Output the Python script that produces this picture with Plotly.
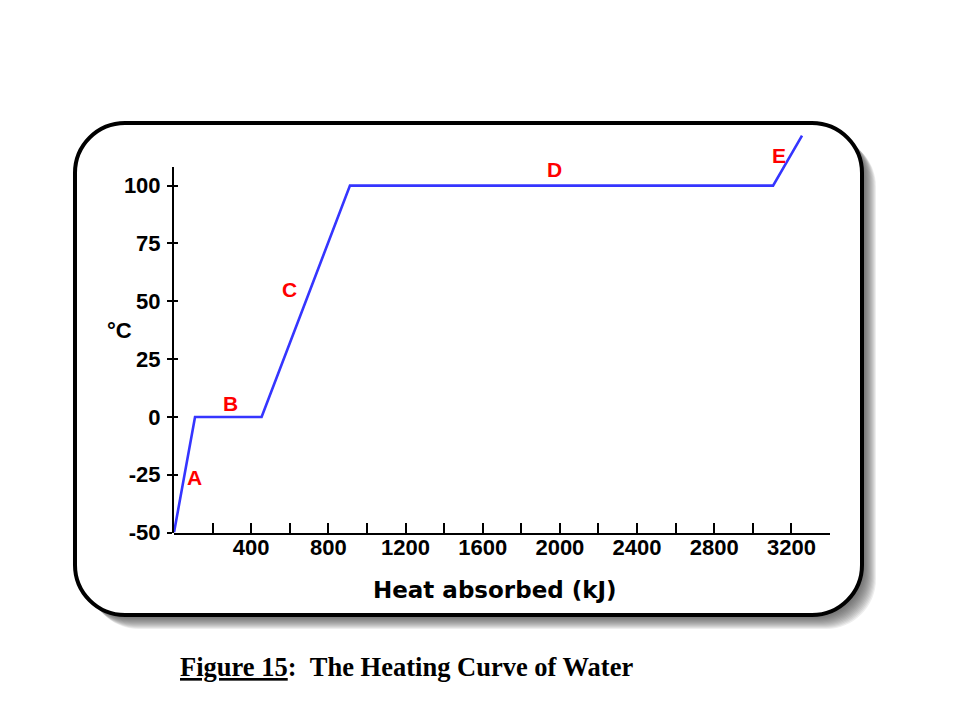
import plotly.graph_objects as go

# ---------------- data ----------------
heat_kj = [0, 109, 454, 912, 3105, 3255]
temp_c = [-50, 0, 0, 100, 100, 121.6]

seg_labels = ["A", "B", "C", "D", "E"]
seg_label_x = [105, 295, 597, 1974, 3136]
seg_label_y = [-26, 6, 55, 107, 113]

x_tickvals = list(range(0, 3401, 200))
x_ticktext = ["" if (v == 0 or v % 400 != 0 or v > 3200) else str(v) for v in x_tickvals]
y_tickvals = [-50, -25, 0, 25, 50, 75, 100]
y_ticktext = ["-50", "-25", "0", "25", "50", "75", "100"]

x_title = "Heat absorbed (kJ)"
y_title = "°C"
caption = "<b><u>Figure 15</u>:&nbsp;&nbsp;The Heating Curve of Water</b>"

# ---------------- layout geometry (pixels) ----------------
W, H = 960, 720
px_x0, px_x1 = 174, 830          # x range 0..3400
px_ybot = 532.6                  # y = -50
px_per_deg = 2.313
y_data_top = 125
y_axis_top = 108


def fx(px):
    return px / W


def fy(py):
    return 1 - py / H


y_dom_bot = fy(px_ybot)
y_dom_top = fy(px_ybot - (y_data_top + 50) * px_per_deg)
y2_dom_top = fy(px_ybot - (y_axis_top + 50) * px_per_deg)


def rr_path(x0, y0, x1, y1, r):
    k = 0.5523 * r
    pts = [
        ("M", [(x0 + r, y0)]),
        ("L", [(x1 - r, y0)]),
        ("C", [(x1 - r + k, y0), (x1, y0 + r - k), (x1, y0 + r)]),
        ("L", [(x1, y1 - r)]),
        ("C", [(x1, y1 - r + k), (x1 - r + k, y1), (x1 - r, y1)]),
        ("L", [(x0 + r, y1)]),
        ("C", [(x0 + r - k, y1), (x0, y1 - r + k), (x0, y1 - r)]),
        ("L", [(x0, y0 + r)]),
        ("C", [(x0, y0 + r - k), (x0 + r - k, y0), (x0 + r, y0)]),
    ]
    s = ""
    for cmd, ps in pts:
        s += cmd + " " + " ".join(f"{fx(a):.5f},{fy(b):.5f}" for a, b in ps) + " "
    return s + "Z"


shapes = []
# soft shadow
for k in range(1, 15):
    shapes.append(dict(type="path", xref="paper", yref="paper",
                       path=rr_path(75 + k, 123 + k, 862 + k, 615 + k, 50),
                       fillcolor="rgba(70,70,70,0.09)", line=dict(width=0),
                       layer="below"))
# frame
shapes.append(dict(type="path", xref="paper", yref="paper",
                   path=rr_path(75, 123, 862, 615, 50),
                   fillcolor="white", line=dict(color="black", width=4),
                   layer="below"))

fig = go.Figure()
fig.add_trace(go.Scatter(x=heat_kj, y=temp_c, mode="lines",
                         line=dict(color="#3535ff", width=2.6),
                         hoverinfo="skip", showlegend=False))
# empty traces so the axis-only subplot is drawn
fig.add_trace(go.Scatter(x=[None], y=[None], xaxis="x2", yaxis="y2",
                         mode="lines", hoverinfo="skip", showlegend=False))
fig.add_trace(go.Scatter(x=[None], y=[None], xaxis="x2", yaxis="y3",
                         mode="lines", hoverinfo="skip", showlegend=False))

annotations = []
for t, lx, ly in zip(seg_labels, seg_label_x, seg_label_y):
    annotations.append(dict(x=lx, y=ly, xref="x", yref="y", text=f"<b>{t}</b>",
                            showarrow=False,
                            font=dict(family="Liberation Sans", size=21, color="#ff0000")))
annotations.append(dict(x=fx(495), y=fy(590), xref="paper", yref="paper",
                        text=f"<b>{x_title}</b>", showarrow=False,
                        xanchor="center", yanchor="middle",
                        font=dict(family="DejaVu Sans", size=23, color="black")))
annotations.append(dict(x=fx(119), y=fy(331), xref="paper", yref="paper",
                        text=f"<b>{y_title}</b>", showarrow=False,
                        xanchor="center", yanchor="middle",
                        font=dict(family="Liberation Sans", size=22, color="black")))
annotations.append(dict(x=fx(178), y=fy(667), xref="paper", yref="paper",
                        text=caption, showarrow=False,
                        xanchor="left", yanchor="middle",
                        font=dict(family="Liberation Serif", size=26.5, color="black")))

tickfont = dict(family="Liberation Sans", size=22, color="black", weight="bold")

fig.update_layout(
    width=W, height=H,
    autosize=False,
    showlegend=False,
    margin=dict(l=0, r=0, t=0, b=0, pad=0, autoexpand=False),
    paper_bgcolor="white",
    plot_bgcolor="rgba(0,0,0,0)",
    shapes=shapes,
    annotations=annotations,
    xaxis=dict(domain=[fx(px_x0), fx(px_x1)], range=[0, 3400], anchor="y",
               showline=True, linecolor="black", linewidth=2,
               ticks="inside", ticklen=10, tickwidth=2, tickcolor="black",
               tickvals=x_tickvals, ticktext=x_ticktext,
               tickfont=tickfont, ticklabelstandoff=-6, automargin=False,
               showgrid=False, zeroline=False, fixedrange=True),
    yaxis=dict(domain=[y_dom_bot, y_dom_top], range=[-50, y_data_top], anchor="x",
               visible=False, fixedrange=True, automargin=False),
    xaxis2=dict(domain=[fx(px_x0), fx(px_x1)], range=[0, 3400], anchor="y2",
                visible=False, fixedrange=True, automargin=False),
    yaxis2=dict(domain=[y_dom_bot, y2_dom_top], range=[-50, y_axis_top], anchor="x2",
                showline=True, linecolor="black", linewidth=2,
                ticks="outside", ticklen=5, tickwidth=2, tickcolor="black",
                tickvals=y_tickvals, ticktext=y_ticktext,
                tickfont=tickfont, ticklabelstandoff=2, automargin=False,
                showgrid=False, zeroline=False, fixedrange=True),
    yaxis3=dict(overlaying="y2", anchor="x2", range=[-50, y_axis_top],
                side="left", showline=False, automargin=False,
                ticks="inside", ticklen=4, tickwidth=2, tickcolor="black",
                tickvals=y_tickvals, showticklabels=False,
                showgrid=False, zeroline=False, fixedrange=True),
)

post = (
    "document.body.style.margin='0';"
    "document.body.style.overflow='hidden';"
)

fig.write_html("out.html", config={"displayModeBar": False, "responsive": False},
               post_script=post)
